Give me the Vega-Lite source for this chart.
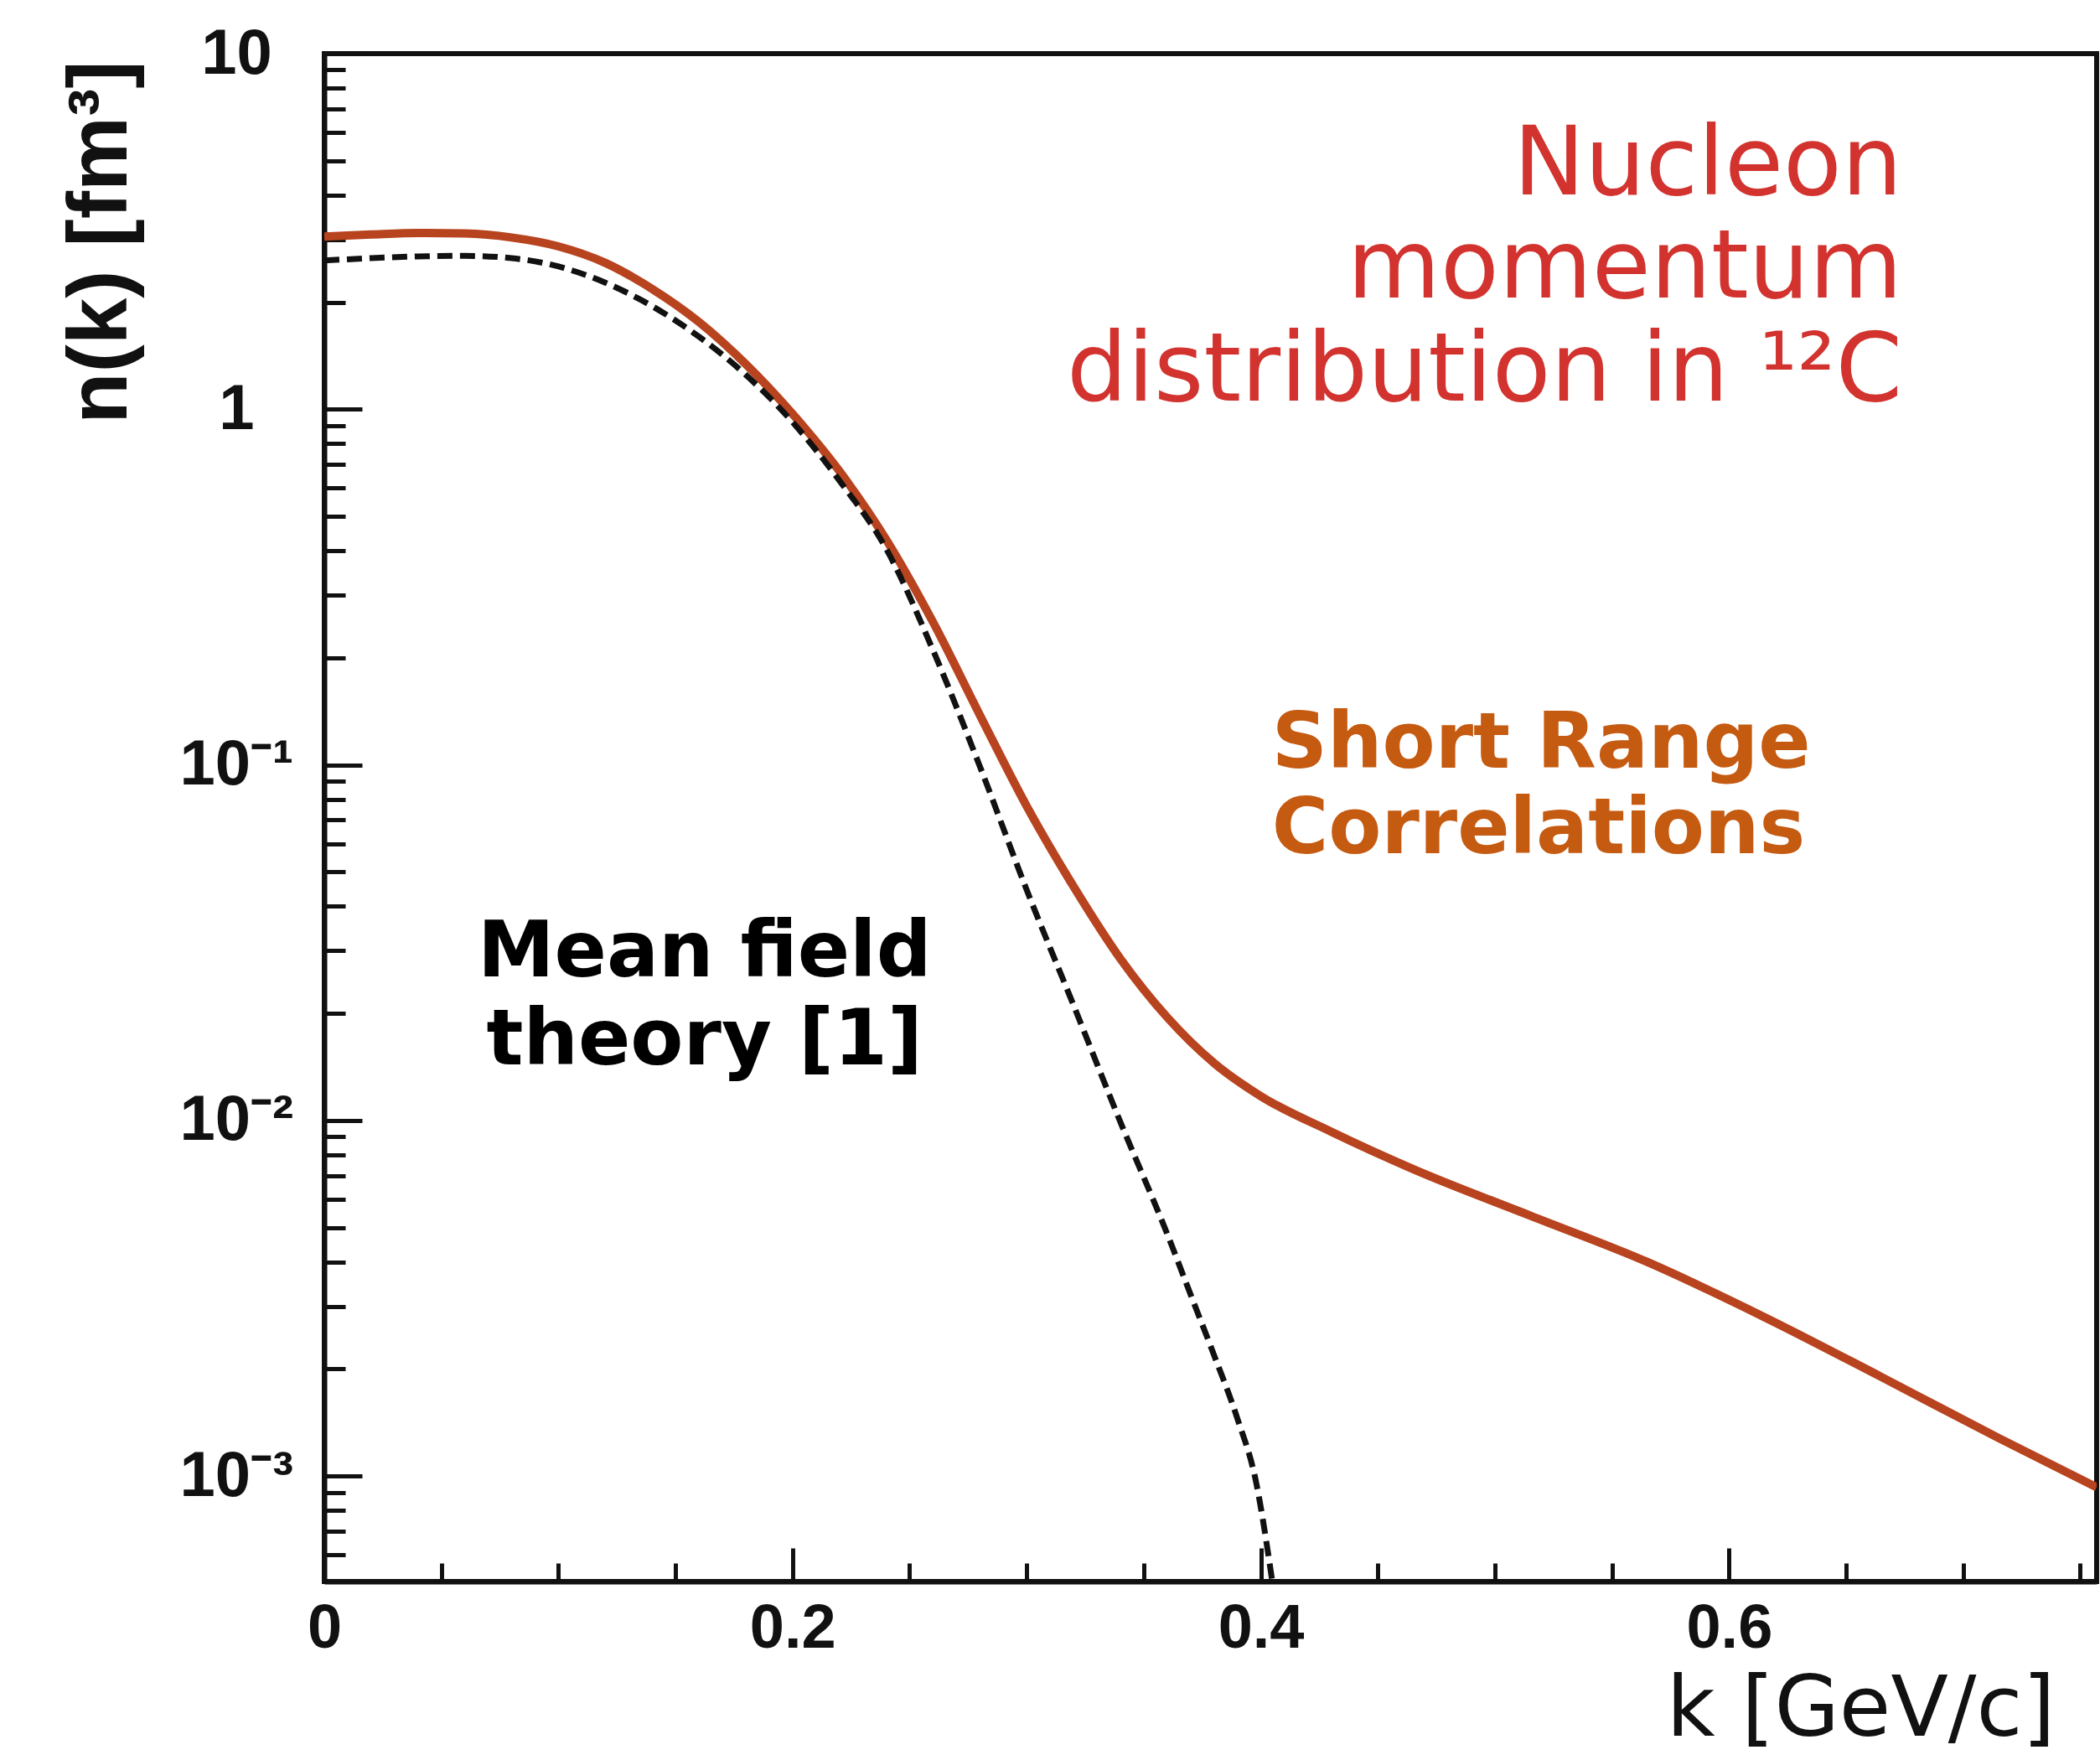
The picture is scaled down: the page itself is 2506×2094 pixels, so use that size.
{
  "$schema": "https://vega.github.io/schema/vega-lite/v6.json",
  "width": 2115,
  "height": 1823,
  "autosize": {"type": "none"},
  "padding": {"left": 387, "top": 64, "right": 4, "bottom": 207},
  "background": "white",
  "config": {
    "view": {"stroke": "#111111", "strokeWidth": 6},
    "axis": {"grid": false, "domainColor": "#111111", "domainWidth": 6, "tickColor": "#111111", "tickWidth": 5, "labelColor": "#111111", "titleColor": "#111111"}
  },
  "datasets": {
    "full": [
      {"k": 0.0, "n": 3.06}, {"k": 0.02, "n": 3.1}, {"k": 0.04, "n": 3.13}, {"k": 0.06, "n": 3.12},
      {"k": 0.08, "n": 3.04}, {"k": 0.1, "n": 2.87}, {"k": 0.12, "n": 2.58}, {"k": 0.14, "n": 2.18},
      {"k": 0.16, "n": 1.76}, {"k": 0.18, "n": 1.34}, {"k": 0.2, "n": 0.97}, {"k": 0.22, "n": 0.67},
      {"k": 0.24, "n": 0.43}, {"k": 0.26, "n": 0.252}, {"k": 0.28, "n": 0.138}, {"k": 0.3, "n": 0.0765},
      {"k": 0.32, "n": 0.0455}, {"k": 0.34, "n": 0.0285}, {"k": 0.36, "n": 0.0195}, {"k": 0.38, "n": 0.0145},
      {"k": 0.4, "n": 0.0117}, {"k": 0.43, "n": 0.0093}, {"k": 0.465, "n": 0.0073}, {"k": 0.515, "n": 0.0054},
      {"k": 0.565, "n": 0.004}, {"k": 0.615, "n": 0.0028}, {"k": 0.665, "n": 0.0019}, {"k": 0.715, "n": 0.00128},
      {"k": 0.757, "n": 0.00093}
    ],
    "meanfield": [
      {"k": 0.0, "n": 2.62}, {"k": 0.02, "n": 2.66}, {"k": 0.04, "n": 2.69}, {"k": 0.06, "n": 2.7},
      {"k": 0.08, "n": 2.66}, {"k": 0.1, "n": 2.52}, {"k": 0.12, "n": 2.27}, {"k": 0.14, "n": 1.95},
      {"k": 0.16, "n": 1.6}, {"k": 0.18, "n": 1.25}, {"k": 0.2, "n": 0.92}, {"k": 0.22, "n": 0.63},
      {"k": 0.24, "n": 0.405}, {"k": 0.26, "n": 0.21}, {"k": 0.28, "n": 0.099}, {"k": 0.3, "n": 0.0445},
      {"k": 0.32, "n": 0.0211}, {"k": 0.34, "n": 0.0099}, {"k": 0.36, "n": 0.0048}, {"k": 0.37, "n": 0.00324},
      {"k": 0.38, "n": 0.00219}, {"k": 0.39, "n": 0.00145}, {"k": 0.398, "n": 0.00096}, {"k": 0.405, "n": 0.0005}
    ]
  },
  "layer": [
    {
      "data": {"name": "full"},
      "mark": {"type": "line", "color": "#b8431f", "strokeWidth": 10, "interpolate": "monotone", "clip": true},
      "encoding": {
        "x": {
          "field": "k", "type": "quantitative",
          "scale": {"domain": [0, 0.757], "nice": false, "zero": false},
          "axis": {
            "values": [0, 0.05, 0.1, 0.15, 0.2, 0.25, 0.3, 0.35, 0.4, 0.45, 0.5, 0.55, 0.6, 0.65, 0.7, 0.75],
            "labelExpr": "abs(datum.value*5 - round(datum.value*5)) < 0.001 ? (datum.value == 0 ? '0' : format(datum.value, '.1f')) : ''",
            "labelFont": "Liberation Sans", "labelFontSize": 74, "labelFontWeight": "bold",
            "labelAlign": "center", "labelBaseline": "top", "labelPadding": 60,
            "labelFlush": false, "labelOverlap": false, "labelBound": false,
            "tickSize": {"condition": {"test": "abs(datum.value*5 - round(datum.value*5)) < 0.001", "value": -40}, "value": -22},
            "title": "k [GeV/c]", "titleFont": "DejaVu Sans", "titleFontSize": 100, "titleFontWeight": "normal",
            "titleAlign": "right", "titleBaseline": "alphabetic", "titleX": 2065, "titleY": 183
          }
        },
        "y": {
          "field": "n", "type": "quantitative",
          "scale": {"type": "log", "domain": [0.000505, 10], "nice": false},
          "axis": {
            "values": [0.0006, 0.0007, 0.0008, 0.0009, 0.001, 0.002, 0.003, 0.004, 0.005, 0.006, 0.007, 0.008, 0.009, 0.01, 0.02, 0.03, 0.04, 0.05, 0.06, 0.07, 0.08, 0.09, 0.1, 0.2, 0.3, 0.4, 0.5, 0.6, 0.7, 0.8, 0.9, 1, 2, 3, 4, 5, 6, 7, 8, 9, 10],
            "labelExpr": "datum.value > 9.99 ? '10' : (datum.value > 0.999 && datum.value < 1.001) ? '1' : (datum.value > 0.0999 && datum.value < 0.1001) ? '10⁻¹' : (datum.value > 0.00999 && datum.value < 0.01001) ? '10⁻²' : (datum.value > 0.000999 && datum.value < 0.001001) ? '10⁻³' : ''",
            "labelFont": "Liberation Sans", "labelFontSize": 76, "labelFontWeight": "bold",
            "labelAlign": "center", "labelBaseline": "middle", "labelPadding": 150,
            "labelFlush": false, "labelOverlap": false, "labelBound": false,
            "tickSize": {"condition": {"test": "abs(log(datum.value)/LN10 - round(log(datum.value)/LN10)) < 0.001", "value": -45}, "value": -25},
            "title": "n(k) [fm³]", "titleFont": "Liberation Sans", "titleFontSize": 100, "titleFontWeight": "bold",
            "titleAngle": 270, "titleAlign": "right", "titleBaseline": "middle", "titleX": -267, "titleY": 8
          }
        }
      }
    },
    {
      "data": {"name": "meanfield"},
      "mark": {"type": "line", "color": "#111111", "strokeWidth": 7, "strokeDash": [18, 9], "interpolate": "monotone", "clip": true},
      "encoding": {
        "x": {"field": "k", "type": "quantitative", "scale": {"domain": [0, 0.757], "nice": false, "zero": false}},
        "y": {"field": "n", "type": "quantitative", "scale": {"type": "log", "domain": [0.000505, 10], "nice": false}}
      }
    },
    {
      "data": {"values": [{"label": "Nucleon"}]},
      "mark": {"type": "text", "align": "right", "baseline": "alphabetic", "font": "DejaVu Sans", "fontSize": 114, "lineHeight": 123, "color": "#d2332f"},
      "encoding": {
        "x": {"datum": 0.674, "type": "quantitative", "scale": {"domain": [0, 0.757], "nice": false, "zero": false}},
        "y": {"datum": 4.02, "type": "quantitative", "scale": {"type": "log", "domain": [0.000505, 10], "nice": false}},
        "text": {"value": ["Nucleon", "momentum", "distribution in ¹²C"]}
      }
    },
    {
      "data": {"values": [{"label": "Short Range Correlations"}]},
      "mark": {"type": "text", "align": "left", "baseline": "alphabetic", "font": "DejaVu Sans", "fontWeight": "bold", "fontSize": 92, "lineHeight": 102, "color": "#c55a11"},
      "encoding": {
        "x": {"datum": 0.4047, "type": "quantitative", "scale": {"domain": [0, 0.757], "nice": false, "zero": false}},
        "y": {"datum": 0.0982, "type": "quantitative", "scale": {"type": "log", "domain": [0.000505, 10], "nice": false}},
        "text": {"value": ["Short Range", "Correlations"]}
      }
    },
    {
      "data": {"values": [{"label": "Mean field theory [1]"}]},
      "mark": {"type": "text", "align": "center", "baseline": "alphabetic", "font": "DejaVu Sans", "fontWeight": "bold", "fontSize": 92, "lineHeight": 105, "color": "#000000"},
      "encoding": {
        "x": {"datum": 0.1624, "type": "quantitative", "scale": {"domain": [0, 0.757], "nice": false, "zero": false}},
        "y": {"datum": 0.0254, "type": "quantitative", "scale": {"type": "log", "domain": [0.000505, 10], "nice": false}},
        "text": {"value": ["Mean field", "theory [1]"]}
      }
    }
  ]
}
